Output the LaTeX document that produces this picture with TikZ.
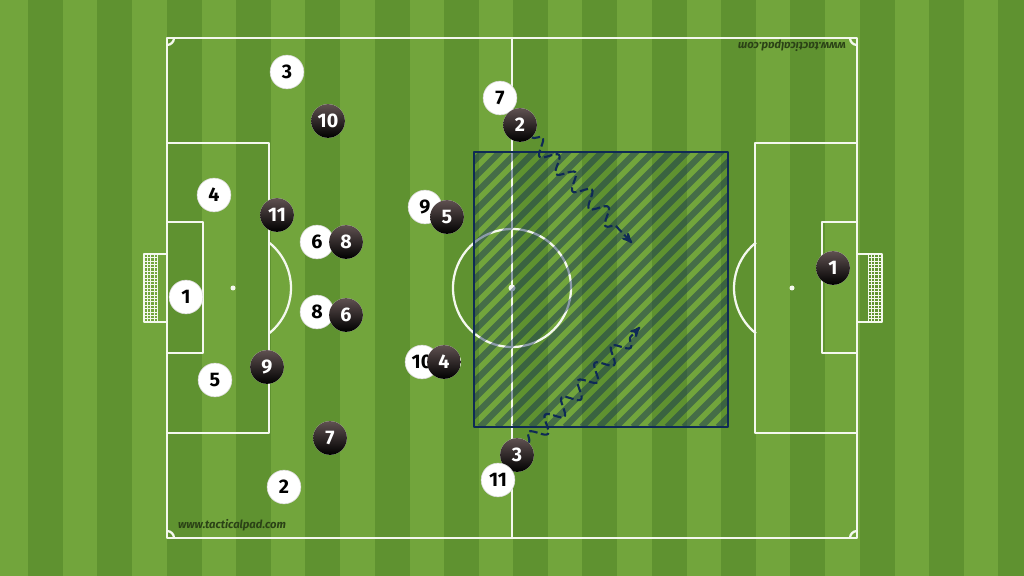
\documentclass[tikz,border=0pt]{standalone}
\usepackage{fontspec}
\setsansfont{Fira Sans}
\usepackage{xcolor}
\usepackage{tikz}
\usetikzlibrary{arrows,decorations.pathmorphing}

\definecolor{grasslight}{HTML}{72A53C}
\definecolor{grassdark}{HTML}{5F9230}
\definecolor{chalk}{HTML}{F4F8EE}
\definecolor{zone}{HTML}{0F2A55}
\definecolor{shirt}{HTML}{2A1717}

\begin{document}
\begin{tikzpicture}[x=0.025cm,y=-0.025cm,>=stealth',line join=round]
  \tikzstyle{line}=[draw=chalk,line width=1.6pt]
  \tikzstyle{net}=[draw=chalk,line width=0.3pt]
  \tikzstyle{hatch}=[draw=zone,opacity=0.45,line width=4.3pt]
  \tikzstyle{home}=[circle,fill=white,draw=black!15,thin,minimum size=24pt,inner sep=0pt,
                    font=\sffamily\bfseries\fontsize{14}{14}\selectfont,text=black]
  \tikzstyle{away}=[home,draw=none,top color=shirt!75!white,middle color=shirt,bottom color=black,text=white]
  \tikzstyle{run}=[->,draw=zone,line width=1.5pt,dash pattern=on 6pt off 2.5pt,decorate,
                   decoration={snake,amplitude=5.5pt,segment length=17pt,post length=9pt}]
  \tikzstyle{watermark}=[font=\sffamily\bfseries\itshape\fontsize{8}{8}\selectfont,text=grassdark!45!black]

  \useasboundingbox (0,0) rectangle (1024,576);
  \fill[grasslight] (0,0) rectangle (1024,576);
  \foreach \i in {0,...,14}
    \fill[grassdark] ({28+69.3*\i},0) rectangle +(35,576);

  % pitch
  \draw[line] (167,38) rectangle (857,538);
  \draw[line] (512,38) -- (512,538);
  \draw[line] (512,288) circle (59);
  \fill[chalk] (512,288) circle (3.5);
  \draw[line] (167,143) rectangle (269,433);
  \draw[line] (167,222) rectangle (203,353);
  \draw[line] (755,143) rectangle (857,433);
  \draw[line] (822,222) rectangle (857,353);
  \draw[line] (233,288) ++(-51.6:58) arc[start angle=-51.6,end angle=51.6,radius=58];
  \draw[line] (792,288) ++(128.4:58) arc[start angle=128.4,end angle=231.6,radius=58];
  \fill[chalk] (233,288) circle (2.5);
  \fill[chalk] (792,288) circle (2.5);
  \draw[line] (174,38) arc[start angle=0,end angle=90,radius=7];
  \draw[line] (850,38) arc[start angle=180,end angle=90,radius=7];
  \draw[line] (174,538) arc[start angle=0,end angle=-90,radius=7];
  \draw[line] (850,538) arc[start angle=180,end angle=270,radius=7];

  % goals
  \foreach \x in {144,147.25,...,157} {
    \draw[net] (\x,254) -- (\x,322);
    \draw[net] ({\x+724},254) -- ({\x+724},322);
  }
  \foreach \y in {254,257.4,...,322} {
    \draw[net] (144,\y) -- (157,\y);
    \draw[net] (868,\y) -- (882,\y);
  }
  \draw[draw=chalk,line width=1pt] (167,254) -- (144,254) -- (144,322) -- (167,322);
  \draw[draw=chalk,line width=1pt] (857,254) -- (882,254) -- (882,322) -- (857,322);

  \node[watermark] (mark1) at (232,525) {www.tacticalpad.com};
  \node[watermark,rotate=180] (mark2) at (792,46) {www.tacticalpad.com};

  % space to attack
  \begin{scope}
    \clip (474,152) rectangle (728,427);
    \foreach \k in {0,...,34}
      \draw[hatch] ({174+17*\k},427) -- +(300,-300);
  \end{scope}
  \draw[draw=zone,line width=2pt] (474,152) rectangle (728,427);

  % white team
  \node[home] (w1)  at (186,297) {1};
  \node[home] (w2)  at (284,487) {2};
  \node[home] (w3)  at (287,72)  {3};
  \node[home] (w4)  at (214,195) {4};
  \node[home] (w5)  at (215,380) {5};
  \node[home] (w6)  at (317,242) {6};
  \node[home] (w7)  at (500,98)  {7};
  \node[home] (w8)  at (317,312) {8};
  \node[home] (w9)  at (425,207) {9};
  \node[home] (w10) at (422,362) {10};

  % black team
  \node[away] (b1)  at (833,268) {1};
  \node[away] (b2)  at (520,125) {2};
  \node[away] (b3)  at (517,455) {3};
  \node[away] (b4)  at (444,362) {4};
  \node[away] (b5)  at (447,217) {5};
  \node[away] (b6)  at (346,315) {6};
  \node[away] (b7)  at (330,438) {7};
  \node[away] (b8)  at (346,242) {8};
  \node[away] (b9)  at (267,367) {9};
  \node[away] (b10) at (328,121) {10};
  \node[away] (b11) at (277,215) {11};

  \node[home] (w11) at (498,480) {11};

  \coordinate (end2) at (632,243);
  \coordinate (end3) at (640,327);
  \draw[run] (b2) -- (end2);
  \draw[run] (b3) -- (end3);
\end{tikzpicture}
\end{document}
